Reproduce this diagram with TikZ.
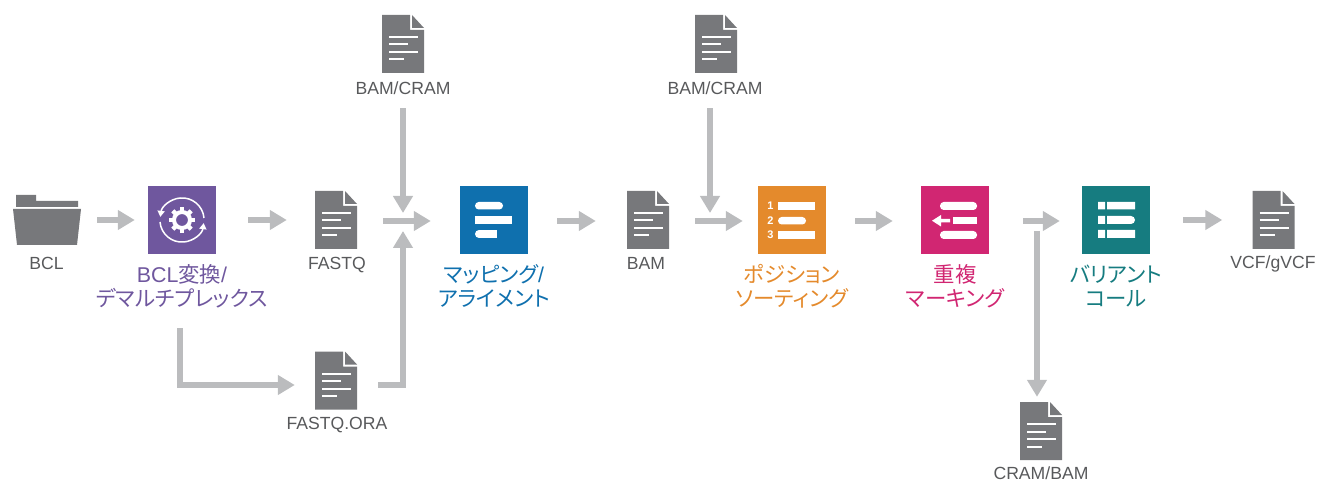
\documentclass[tikz,border=0pt]{standalone}
\usepackage{fontspec}
\setmainfont{Liberation Sans}
\newfontfamily\jp[RawFeature=+palt]{Noto Sans CJK JP}
\usetikzlibrary{arrows.meta,calc}
\definecolor{arrowgray}{HTML}{BBBCBE}
\definecolor{docgray}{HTML}{77787B}
\definecolor{labelgray}{HTML}{58595B}
\definecolor{cpurple}{HTML}{6F579E}
\definecolor{cblue}{HTML}{0F70AE}
\definecolor{corange}{HTML}{E48A2C}
\definecolor{cpink}{HTML}{D12672}
\definecolor{cteal}{HTML}{167C80}
\tikzset{
  flow/.style={draw=arrowgray,line width=6.5pt,line join=miter,-{Triangle[length=17pt,width=19pt]}},
  iconbox/.style={minimum width=68pt,minimum height=68pt,inner sep=0pt,fill=#1},
  docbox/.style={minimum width=42pt,minimum height=58pt,inner sep=0pt},
  filelabel/.style={text=labelgray,font=\fontsize{17.6}{20}\selectfont,inner sep=0pt,text height=13pt,text depth=4pt},
  steplabel/.style={text=#1,font=\fontsize{21.4}{24}\jp,inner sep=0pt,align=center},
  whitebar/.style={fill=white,draw=none},
  thinline/.style={draw=white,line width=2pt},
  numlabel/.style={text=white,font=\fontsize{11}{11}\bfseries,inner sep=0pt},
}
\newcommand{\docicon}[3]{%
  \node[docbox] (#1) at (#2,#3) {};
  \begin{scope}[shift={(#2-21,#3-29)}]
    \fill[docgray] (0,0) -- (28,0) -- (28,15) -- (42,15) -- (42,58) -- (0,58) -- cycle;
    \fill[docgray] (30,0) -- (42,13) -- (30,13) -- cycle;
    \draw[thinline] (7,22) -- (36,22) (7,29.5) -- (26,29.5) (7,37) -- (36,37) (7,44.5) -- (22,44.5);
  \end{scope}}
\newcommand{\pill}[4]{\fill[white,rounded corners=3.7pt] (#1,#3) rectangle (#2,#4);}
\begin{document}
\begin{tikzpicture}[x=1pt,y=-1pt]
\useasboundingbox (0,0) rectangle (1318,481);
% folder
\node[minimum width=68pt,minimum height=50pt,inner sep=0pt] (folder) at (47,220) {};
\fill[docgray] (16,195) -- (36,195) -- (36,201) -- (78,201) -- (78,207) -- (16,207) -- cycle;
\fill[docgray] (13,209) -- (81,209) -- (77,245) -- (17,245) -- cycle;
\node[filelabel] (lbcl) at (46.5,265) {BCL};
% step icons
\node[iconbox=cpurple] (demux) at (182,220) {};
\node[iconbox=cblue] (map) at (494,220) {};
\node[iconbox=corange] (sort) at (792,220) {};
\node[iconbox=cpink] (dup) at (955,220) {};
\node[iconbox=cteal] (var) at (1116,220) {};
% gear
\begin{scope}[shift={(182,220)}]
  \draw[white,line width=4pt] (0,0) circle (8);
  \foreach \a in {0,45,...,315} {
    \fill[white,rotate=\a] (9,-2.2) rectangle (13,2.2);
  }
  \draw[white,line width=1.5pt,-{Triangle[length=6pt,width=7pt]}] (-22,2) arc[start angle=175,end angle=8,radius=22];
  \draw[white,line width=1.5pt,-{Triangle[length=6pt,width=7pt]}] (22,-2) arc[start angle=-5,end angle=-172,radius=22];
\end{scope}
% map icon
\pill{475}{503}{202}{209.5}
\fill[white] (475,216) rectangle (512,224);
\fill[white] (479,230) rectangle (497,238);
\fill[white] (479,230) arc[start angle=-90,end angle=-270,radius=4] -- cycle;
% sort icon
\fill[white] (778,202) rectangle (815,210);
\pill{778}{806}{217}{224.5}
\fill[white] (778,231) rectangle (815,239);
\node[numlabel] (n1) at (770.5,206) {1};
\node[numlabel] (n2) at (770.5,220.5) {2};
\node[numlabel] (n3) at (770.5,235) {3};
% dup icon
\pill{940}{977}{202}{210}
\fill[white] (953,217) rectangle (977,224.5);
\fill[white] (932,220.7) -- (941,215) -- (941,219) -- (950,219) -- (950,222.5) -- (941,222.5) -- (941,226.5) -- cycle;
\pill{940}{977}{231}{239}
% variant icon
\fill[white] (1098,202) rectangle (1105,209.5) (1098,216) rectangle (1105,224) (1098,230) rectangle (1105,238);
\fill[white] (1107,202) rectangle (1135,209.5) (1107,230) rectangle (1135,238);
\fill[white] (1107,216) -- (1131,216) arc[start angle=-90,end angle=90,radius=4] -- (1107,224) -- cycle;
% docs
\docicon{bam1}{403}{44}
\docicon{bam2}{716}{44}
\docicon{fastq}{336}{220}
\docicon{bam}{648}{220}
\docicon{ora}{336}{380.5}
\docicon{vcf}{1273.5}{220}
\docicon{cram}{1041}{431}
% labels
\node[filelabel] (lbam1) at (403,90) {BAM/CRAM};
\node[filelabel] (lbam2) at (715,90) {BAM/CRAM};
\node[filelabel] (lfastq) at (337,265) {FASTQ};
\node[filelabel] (lbam) at (646,265) {BAM};
\node[filelabel] (lora) at (337,425) {FASTQ.ORA};
\node[filelabel] (lvcf) at (1273,264) {VCF/gVCF};
\node[filelabel] (lcram) at (1041,475) {CRAM/BAM};
\node[steplabel=cpurple] (ldemux) at (182,286) {{\rmfamily BCL}変換{\rmfamily /}\\デマルチプレックス};
\node[steplabel=cblue] (lmap) at (494,286) {マッピング{\rmfamily /}\\アライメント};
\node[steplabel=corange] (lsort) at (792,286) {ポジション\\ソーティング};
\node[steplabel=cpink] (ldup) at (955,286) {重複\\マーキング};
\node[steplabel=cteal] (lvar) at (1116,286) {バリアント\\コール};
% merge points
\coordinate (m1) at (403,213);
\coordinate (m2) at (403,231);
\coordinate (m3) at (710,213);
\coordinate (m4) at (1037,231);
% arrows
\draw[flow,shorten <=16pt,shorten >=13pt] (folder) -- (demux);
\draw[flow,shorten <=32pt,shorten >=28pt] (demux) -- (fastq);
\draw[flow,shorten <=26pt,shorten >=29pt] ([yshift=-1pt]fastq.east) -- ([yshift=-1pt]map.west);
\draw[flow,shorten <=29pt,shorten >=31pt] ([yshift=-1pt]map.east) -- ([yshift=-1pt]bam.west);
\draw[flow,shorten <=26pt,shorten >=15pt] ([yshift=-1pt]bam.east) -- ([yshift=-1pt]sort.west);
\draw[flow,shorten <=29pt,shorten >=28pt] ([yshift=-1pt]sort.east) -- ([yshift=-1pt]dup.west);
\draw[flow,shorten <=34pt,shorten >=22pt] ([yshift=-1pt]dup.east) -- ([yshift=-1pt]var.west);
\draw[flow,shorten <=33pt,shorten >=30pt] (var) -- (vcf);
\draw[flow,shorten <=9.5pt] (lbam1.south) -- (m1);
\draw[flow,shorten <=9.5pt] (lbam2.south -| m3) -- (m3);
\draw[flow,shorten <=21pt] ([yshift=-4.5pt]ora.east) -| (m2);
\draw[flow,shorten <=20pt,shorten >=20pt] (ldemux.south -| 180,0) |- ([yshift=-4.5pt]ora.west);
\draw[flow,shorten >=5pt] (m4) -- (cram.north -| m4);
\end{tikzpicture}
\end{document}
